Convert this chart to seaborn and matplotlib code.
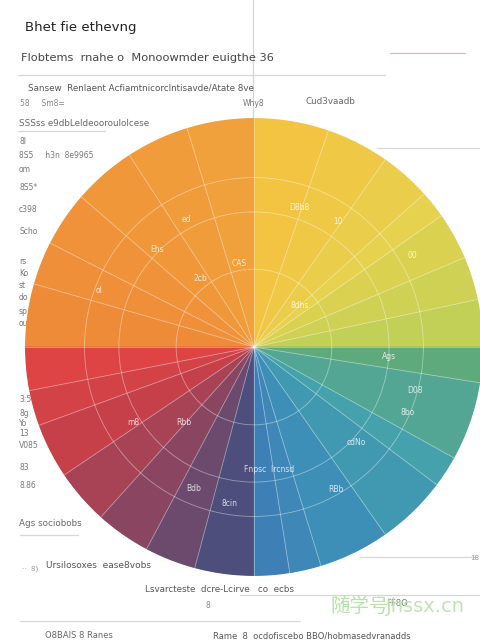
import numpy as np
import matplotlib
matplotlib.use("Agg")
import matplotlib.pyplot as plt
import seaborn as sns

# Radial dividers (degrees, counter-clockwise from east), one list per quadrant
q1_edges = [0, 12, 23, 35, 42, 55, 71, 90]
q2_edges = [90, 107, 123, 139, 153, 164, 180]
q3_edges = [180, 191, 200, 214, 228, 242, 255, 270]
q4_edges = [270, 279, 287, 305, 323, 331, 351, 360]

# Colour stops inside each quadrant (start angle -> end angle)
q1_stops = ["#c2d057", "#e6d24e", "#f3c441"]
q2_stops = ["#f1a13b", "#f0943a", "#ee8b38"]
q3_stops = ["#de4444", "#c6404a", "#8a4661", "#4d4e7b"]
q4_stops = ["#3e7fb6", "#3d8fb8", "#45a1ab", "#5faa7c"]

ring_radii = [0.34, 0.59, 0.74]

# Labels inside the wheel: angle, radius, text
wheel_theta = [-4, -15, -23, -43, -60, 247, 261, -83, 227, 212, 72, 118, 100, 128, 135, 42, 56, 30, 160]
wheel_r = [0.59, 0.73, 0.73, 0.61, 0.72, 0.67, 0.69, 0.54, 0.45, 0.62, 0.64, 0.63, 0.37, 0.38, 0.60, 0.27, 0.66, 0.80, 0.72]
wheel_text = ["Ags", "D08", "8bo", "cdNo", "RBb", "Bdb", "8cin", "Fnpsc  Ircnsd", "Rbb", "m8", "D8b8",
              "ed", "CAS", "2cb", "Ehs", "8dhs", "10", "00", "ol"]

sns.set_theme(style="white")
plt.rcParams['font.family'] = ['DejaVu Sans', 'Noto Sans CJK SC']

fig = plt.figure(figsize=(4.8, 6.4), dpi=100)
fig.patch.set_facecolor("white")

# page layer in pixel coordinates
bg = fig.add_axes([0, 0, 1, 1])
bg.set_xlim(0, 480)
bg.set_ylim(640, 0)
bg.axis("off")

grey = "#d6d6d6"
for y, x0, x1, c in [(75, 18, 385, grey), (131, 18, 105, grey), (53, 390, 465, "#f2b0b0"),
                     (148, 377, 480, grey), (535, 20, 78, grey), (557, 360, 475, grey),
                     (595, 240, 480, grey), (621, 20, 300, grey)]:
    bg.plot([x0, x1], [y, y], color=c, lw=0.9)
bg.plot([253, 253], [0, 120], color=grey, lw=0.9)

bg.text(25, 27, "Bhet fie ethevng", fontsize=9.5, color="#222222", va="center")
bg.text(21, 58, "Flobtems  rnahe o  Monoowmder euigthe 36", fontsize=8.2, color="#444444", va="center")
bg.text(28, 88, "Sansew  Renlaent Acfiamtnicorclntisavde/Atate 8ve", fontsize=6.3, color="#555555", va="center")
bg.text(20, 104, "58     Sm8=", fontsize=5.5, color="#888888", va="center")
bg.text(243, 104, "Why8", fontsize=5.5, color="#777777", va="center")
bg.text(305, 101, "Cud3vaadb", fontsize=6.3, color="#666666", va="center")
bg.text(19, 124, "SSSss e9dbLeldeooroulolcese", fontsize=6.3, color="#666666", va="center")

left_y = [142, 155, 170, 188, 210, 232, 262, 273, 285, 297, 311, 323,
          400, 413, 424, 433, 446, 468, 485]
left_txt = ["8l", "8S5     h3n  8e9965", "om", "8S5*", "c398", "Scho", "rs", "Ko", "st", "do", "sp", "ou",
            "3:5", "8g", "Yo", "13", "V085", "83", "8.86"]
for y, t in zip(left_y, left_txt):
    bg.text(19, y, t, fontsize=5.5, color="#777777", va="center")

bg.text(19, 524, "Ags sociobobs", fontsize=6.3, color="#666666", va="center")
bg.text(22, 569, "··  8)", fontsize=5, color="#999999", va="center")
bg.text(46, 566, "Ursilosoxes  ease8vobs", fontsize=6.5, color="#555555", va="center")
bg.text(145, 589, "Lsvarcteste  dcre-Lcirve   co  ecbs", fontsize=6.3, color="#555555", va="center")
bg.text(206, 606, "8", fontsize=5.5, color="#888888", va="center")
bg.text(386, 603, "FF8O", fontsize=6, color="#777777", va="center")
bg.text(470, 558, "18", fontsize=5, color="#999999", va="center")
bg.text(45, 636, "O8BAIS 8 Ranes", fontsize=6, color="#666666", va="center")
bg.text(213, 636, "Rame  8  ocdofiscebo BBO/hobmasedvranadds", fontsize=6, color="#555555", va="center")

# colour wheel
ax = fig.add_axes([0.0521, 0.1, 0.954, 0.7156], projection="polar")
ax.set_facecolor("none")
for edges, stops in [(q1_edges, q1_stops), (q2_edges, q2_stops), (q3_edges, q3_stops), (q4_edges, q4_stops)]:
    e = np.array(edges, dtype=float)
    cols = sns.blend_palette(stops, n_colors=len(e) - 1)
    ax.bar(np.deg2rad(e[:-1]), 1, width=np.deg2rad(np.diff(e)), bottom=0, align="edge",
           color=cols, edgecolor=cols, linewidth=0.4, zorder=1)

all_edges = sorted(set(q1_edges + q2_edges + q3_edges + q4_edges) - {360})
ax.set_thetagrids(all_edges, labels=[])
ax.set_rgrids(ring_radii, labels=[])
ax.set_ylim(0, 1)
ax.grid(True, color="white", alpha=0.42, linewidth=0.6)
ax.spines["polar"].set_visible(False)
ax.set_axisbelow(False)

for th, r, t in zip(wheel_theta, wheel_r, wheel_text):
    ax.text(np.deg2rad(th), r, t, fontsize=5.5, color="white", alpha=0.8,
            ha="center", va="center", zorder=3)

# site watermark
bg2 = fig.add_axes([0, 0, 1, 1], facecolor="none")
bg2.set_xlim(0, 480)
bg2.set_ylim(640, 0)
bg2.axis("off")
bg2.text(330, 606, "随学号", fontsize=14, color="#b5e3a6", va="center",
         family=["Noto Sans CJK SC", "DejaVu Sans"])
bg2.text(386, 606, "Jhssx.cn", fontsize=14, color="#b5e3a6", va="center", alpha=0.9)

fig.savefig("out.png", dpi=100)
